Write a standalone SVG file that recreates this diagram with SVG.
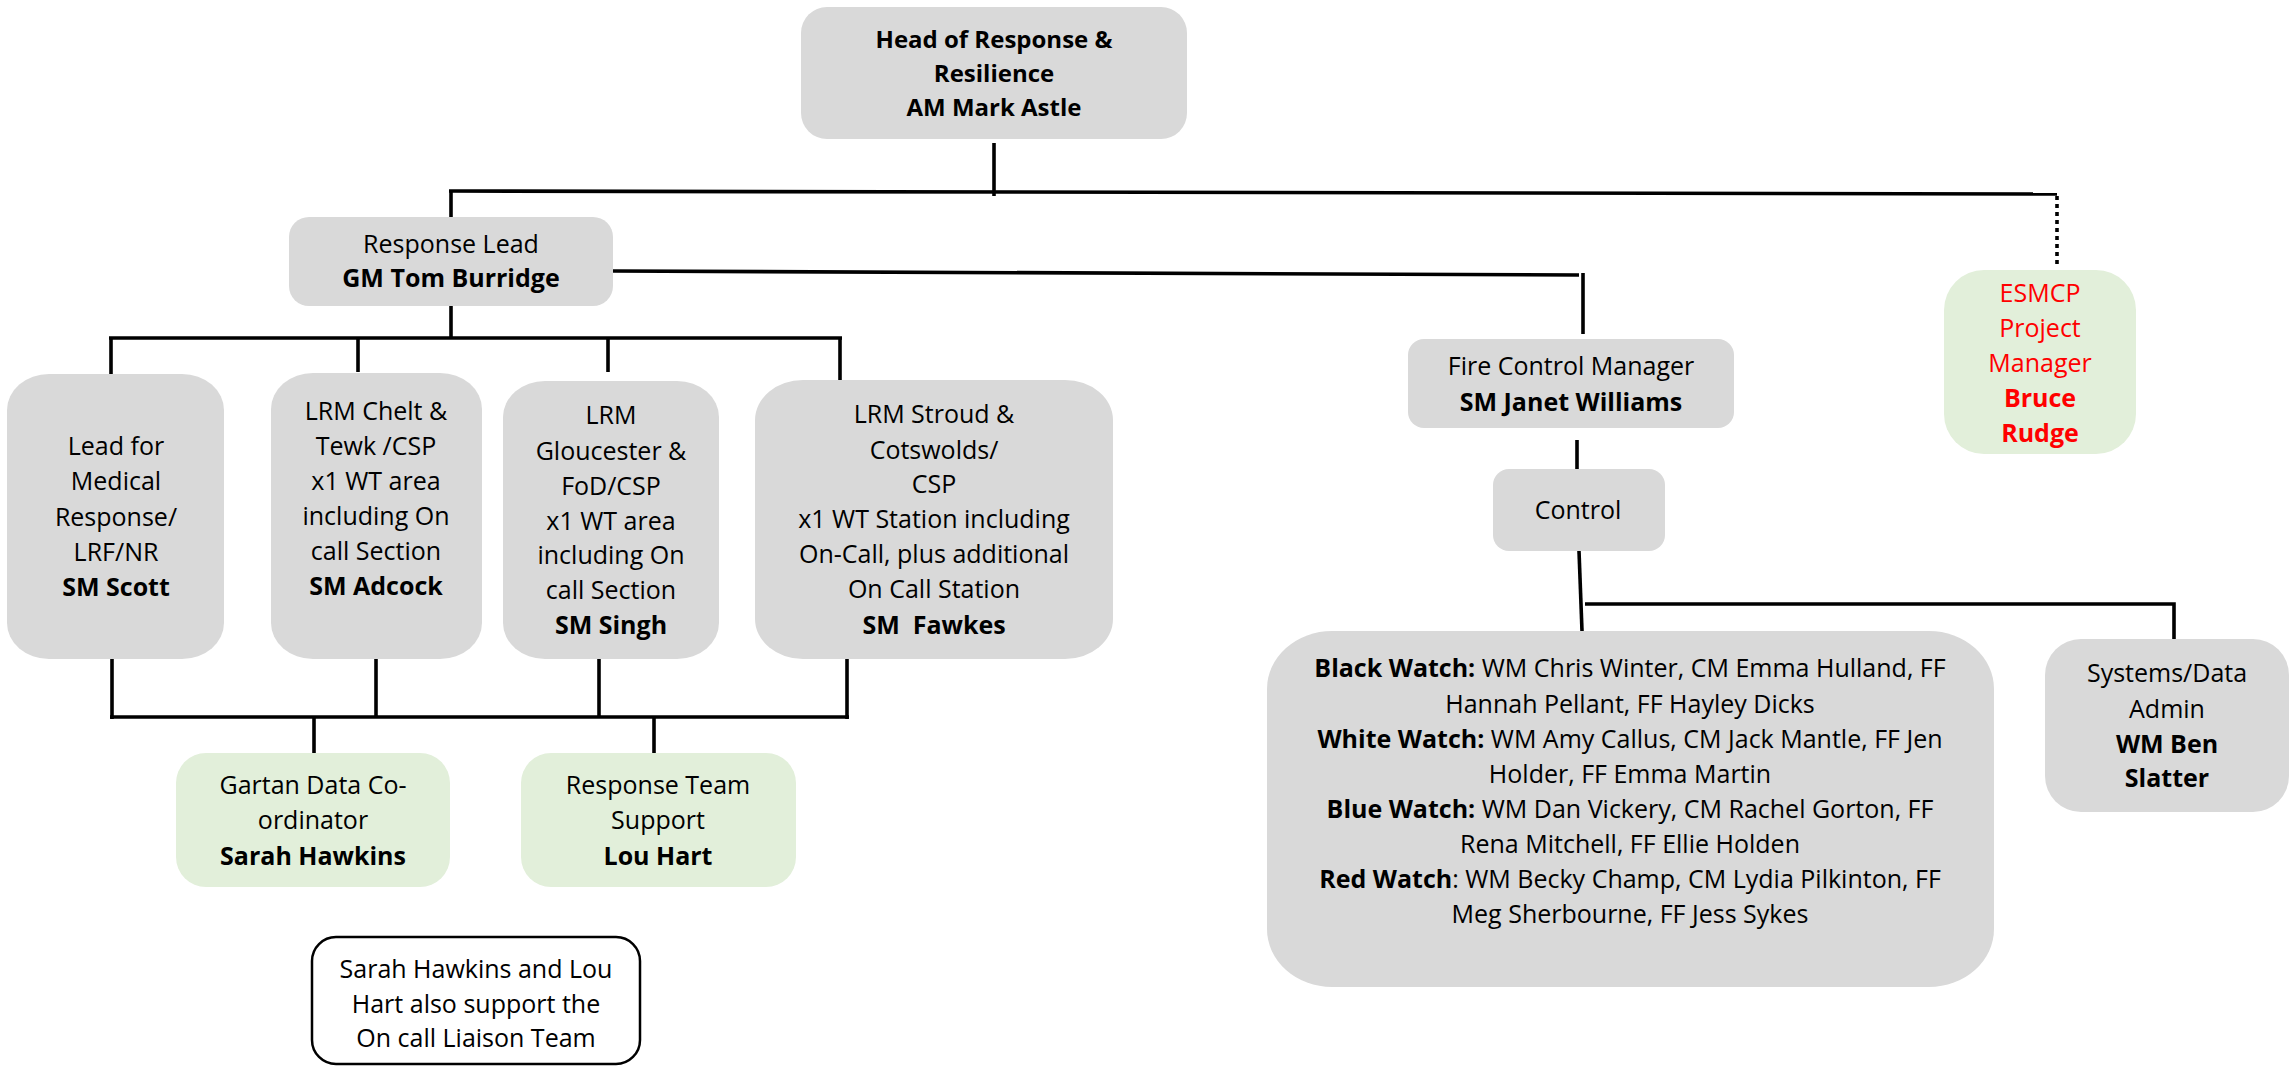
<svg xmlns="http://www.w3.org/2000/svg" width="2291" height="1067" viewBox="0 0 2291 1067">
  <style>
    text { font-family: "Open Sans", "Liberation Sans", sans-serif; font-size: 25px; fill: #000; text-anchor: middle; white-space: pre; }
    .b { font-weight: bold; }
    .grey { fill: #d9d9d9; }
    .green { fill: #e2efda; }
    .red { fill: #ff0000; }
    .note { fill: #ffffff; stroke: #000; stroke-width: 2.5; }
    .head text { font-size: 24px; font-weight: bold; }
    #connectors path { fill: none; stroke: #000; stroke-width: 3.6; }
    #connectors .dotted { stroke-dasharray: 4 4; }
  </style>

  <rect width="2291" height="1067" fill="#ffffff"/>

  <!-- connector lines -->
  <g id="connectors">
    <path d="M994,143 V196"/>
    <path d="M449,191 L2057,194"/>
    <path d="M451,191 V217"/>
    <path class="dotted" d="M2057,196 V266"/>
    <path d="M613,271 L1579,275"/>
    <path d="M1583,273 V334"/>
    <path d="M451,306 V338"/>
    <path d="M109,338 H842"/>
    <path d="M111,338 V376"/>
    <path d="M358,338 V372"/>
    <path d="M608,338 V372"/>
    <path d="M840,338 V381"/>
    <path d="M112,659 V719"/>
    <path d="M376,659 V717"/>
    <path d="M599,659 V717"/>
    <path d="M847,659 V719"/>
    <path d="M110,717 H849"/>
    <path d="M314,717 V753"/>
    <path d="M654,717 V753"/>
    <path d="M1577,440 V469"/>
    <path d="M1579,551 L1582,631"/>
    <path d="M1585,604 H2174 V641"/>
  </g>

  <g id="head" class="head">
    <rect class="grey" x="801" y="7" width="386" height="132" rx="26"/>
    <text x="994" y="48">Head of Response &amp;</text>
    <text x="994" y="82">Resilience</text>
    <text x="994" y="116">AM Mark Astle</text>
  </g>

  <g id="response-lead">
    <rect class="grey" x="289" y="217" width="324" height="89" rx="20"/>
    <text x="451" y="253">Response Lead</text>
    <text class="b" x="451" y="287">GM Tom Burridge</text>
  </g>

  <g id="esmcp">
    <rect class="green" x="1944" y="270" width="192" height="184" rx="40"/>
    <text class="red" x="2040" y="302">ESMCP</text>
    <text class="red" x="2040" y="337">Project</text>
    <text class="red" x="2040" y="372">Manager</text>
    <text class="red b" x="2040" y="407">Bruce</text>
    <text class="red b" x="2040" y="442">Rudge</text>
  </g>

  <g id="fire-control-manager">
    <rect class="grey" x="1408" y="339" width="326" height="89" rx="16"/>
    <text x="1571" y="375">Fire Control Manager</text>
    <text class="b" x="1571" y="411">SM Janet Williams</text>
  </g>

  <g id="control">
    <rect class="grey" x="1493" y="469" width="172" height="82" rx="16"/>
    <text x="1578" y="519">Control</text>
  </g>

  <g id="watches">
    <rect class="grey" x="1267" y="631" width="727" height="356" rx="65" ry="58"/>
    <text x="1630" y="677"><tspan class="b">Black Watch:</tspan> WM Chris Winter, CM Emma Hulland, FF</text>
    <text x="1630" y="713">Hannah Pellant, FF Hayley Dicks</text>
    <text x="1630" y="748"><tspan class="b">White Watch:</tspan> WM Amy Callus, CM Jack Mantle, FF Jen</text>
    <text x="1630" y="783">Holder, FF Emma Martin</text>
    <text x="1630" y="818"><tspan class="b">Blue Watch:</tspan> WM Dan Vickery, CM Rachel Gorton, FF</text>
    <text x="1630" y="853">Rena Mitchell, FF Ellie Holden</text>
    <text x="1630" y="888"><tspan class="b">Red Watch</tspan>: WM Becky Champ, CM Lydia Pilkinton, FF</text>
    <text x="1630" y="923">Meg Sherbourne, FF Jess Sykes</text>
  </g>

  <g id="systems-admin">
    <rect class="grey" x="2045" y="639" width="244" height="173" rx="36"/>
    <text x="2167" y="682">Systems/Data</text>
    <text x="2167" y="718">Admin</text>
    <text class="b" x="2167" y="753">WM Ben</text>
    <text class="b" x="2167" y="787">Slatter</text>
  </g>

  <g id="medical-lead">
    <rect class="grey" x="7" y="374" width="217" height="285" rx="42" ry="36"/>
    <text x="116" y="455">Lead for</text>
    <text x="116" y="490">Medical</text>
    <text x="116" y="526">Response/</text>
    <text x="116" y="561">LRF/NR</text>
    <text class="b" x="116" y="596">SM Scott</text>
  </g>

  <g id="lrm-chelt">
    <rect class="grey" x="271" y="373" width="211" height="286" rx="42" ry="36"/>
    <text x="376" y="420">LRM Chelt &amp;</text>
    <text x="376" y="455">Tewk /CSP</text>
    <text x="376" y="490">x1 WT area</text>
    <text x="376" y="525">including On</text>
    <text x="376" y="560">call Section</text>
    <text class="b" x="376" y="595">SM Adcock</text>
  </g>

  <g id="lrm-gloucester">
    <rect class="grey" x="503" y="381" width="216" height="278" rx="42" ry="36"/>
    <text x="611" y="424">LRM</text>
    <text x="611" y="460">Gloucester &amp;</text>
    <text x="611" y="495">FoD/CSP</text>
    <text x="611" y="530">x1 WT area</text>
    <text x="611" y="564">including On</text>
    <text x="611" y="599">call Section</text>
    <text class="b" x="611" y="634">SM Singh</text>
  </g>

  <g id="lrm-stroud">
    <rect class="grey" x="755" y="380" width="358" height="279" rx="48" ry="40"/>
    <text x="934" y="423">LRM Stroud &amp;</text>
    <text x="934" y="459">Cotswolds/</text>
    <text x="934" y="493">CSP</text>
    <text x="934" y="528">x1 WT Station including</text>
    <text x="934" y="563">On-Call, plus additional</text>
    <text x="934" y="598">On Call Station</text>
    <text class="b" x="934" y="634">SM  Fawkes</text>
  </g>

  <g id="gartan">
    <rect class="green" x="176" y="753" width="274" height="134" rx="30"/>
    <text x="313" y="794">Gartan Data Co-</text>
    <text x="313" y="829">ordinator</text>
    <text class="b" x="313" y="865">Sarah Hawkins</text>
  </g>

  <g id="response-team-support">
    <rect class="green" x="521" y="753" width="275" height="134" rx="30"/>
    <text x="658" y="794">Response Team</text>
    <text x="658" y="829">Support</text>
    <text class="b" x="658" y="865">Lou Hart</text>
  </g>

  <g id="liaison-note">
    <rect class="note" x="312" y="937" width="328" height="127" rx="24"/>
    <text x="476" y="978">Sarah Hawkins and Lou</text>
    <text x="476" y="1013">Hart also support the</text>
    <text x="476" y="1047">On call Liaison Team</text>
  </g>
</svg>
